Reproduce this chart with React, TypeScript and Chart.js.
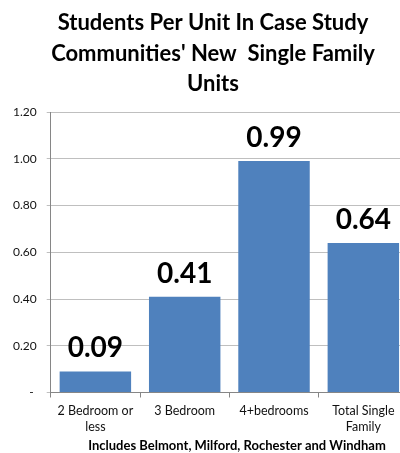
import React, { useEffect, useRef } from "react";
import { Chart, registerables } from "chart.js";

Chart.register(...registerables);

const categories: (string | string[])[] = [
  ["2 Bedroom or", "less"],
  "3 Bedroom",
  "4+bedrooms",
  ["Total Single", "Family"],
];
const studentsPerUnit: number[] = [0.09, 0.41, 0.99, 0.64];
const titleLines: string[] = [
  "Students Per Unit In Case Study",
  "Communities' New  Single Family",
  "Units",
];
const xAxisTitle = "Includes Belmont, Milford, Rochester and Windham";

const W = 426;
const H = 453;

export default function App() {
  const ref = useRef<HTMLCanvasElement | null>(null);

  useEffect(() => {
    const canvas = ref.current;
    if (!canvas) return;

    const overlay = {
      id: "overlay",
      afterDatasetsDraw(chart: any) {
        const ctx = chart.ctx;
        const meta = chart.getDatasetMeta(0);
        ctx.save();
        ctx.fillStyle = "#000";
        ctx.font = "bold 28px Lato";
        ctx.textAlign = "center";
        ctx.textBaseline = "alphabetic";
        meta.data.forEach((el: any, i: number) => {
          ctx.fillText(studentsPerUnit[i].toFixed(2), el.x, el.y - 14);
        });
        ctx.restore();
      },
      afterDraw(chart: any) {
        const ctx = chart.ctx;
        ctx.save();
        ctx.fillStyle = "#000";
        ctx.textAlign = "center";
        ctx.textBaseline = "alphabetic";
        ctx.font = "bold 22px Lato";
        const base = [30, 61, 91];
        titleLines.forEach((t, i) => ctx.fillText(t, 213, base[i]));
        ctx.font = "bold 13px Lato";
        ctx.textBaseline = "middle";
        ctx.fillText(xAxisTitle, 237, 446);
        ctx.restore();
      },
    };

    const chart = new Chart(canvas, {
      type: "bar",
      data: {
        labels: categories,
        datasets: [
          {
            data: studentsPerUnit,
            backgroundColor: "#4f81bd",
            borderWidth: 0,
            barPercentage: 0.8,
            categoryPercentage: 1,
          },
        ],
      },
      options: {
        responsive: false,
        animation: false,
        devicePixelRatio: 1,
        layout: { padding: { top: 112, left: 3, right: 18, bottom: 13 } },
        plugins: {
          legend: { display: false },
          title: { display: false },
          tooltip: { enabled: false },
        },
        scales: {
          x: {
            offset: true,
            grid: {
              offset: true,
              drawOnChartArea: false,
              drawTicks: true,
              tickLength: 5,
              color: "#868686",
            },
            border: { color: "#868686" },
            ticks: {
              color: "#111",
              font: { family: "Lato", size: 12.5, lineHeight: 1.3 },
              padding: 5,
              maxRotation: 0,
              autoSkip: false,
            },
          },
          y: {
            min: 0,
            max: 1.2,
            grid: {
              color: "#bfbfbf",
              drawTicks: true,
              tickLength: 4,
            },
            border: { color: "#868686" },
            ticks: {
              stepSize: 0.2,
              color: "#111",
              padding: 10,
              font: { family: "Lato", size: 12 },
              callback: (v: any) => (Math.abs(Number(v)) < 1e-9 ? "- " : Number(v).toFixed(2)),
            },
          },
        },
      },
      plugins: [overlay],
    });

    return () => chart.destroy();
  }, []);

  return (
    <div
      style={{
        position: "fixed",
        left: 0,
        top: 0,
        width: 400,
        height: 453,
        overflow: "hidden",
        background: "#fff",
      }}
    >
      <canvas ref={ref} width={W} height={H} style={{ display: "block" }} />
    </div>
  );
}
